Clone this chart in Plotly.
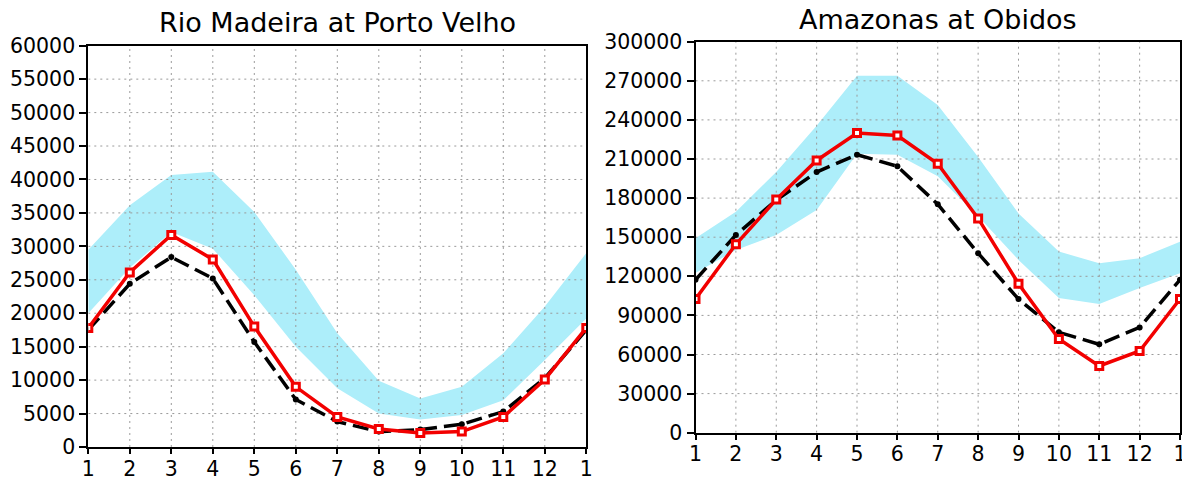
import plotly.graph_objects as go

# ---- data -------------------------------------------------------------
months = list(range(1, 14))
month_labels = ["1", "2", "3", "4", "5", "6", "7", "8", "9", "10", "11", "12", "1"]

madeira_title = "Rio Madeira at Porto Velho"
madeira_obs = [17800, 26100, 31700, 28050, 18000, 9000, 4500, 2700, 2100, 2300, 4500, 10100, 17800]
madeira_sim = [17500, 24400, 28400, 25200, 15700, 7100, 3800, 2300, 2600, 3400, 5300, 10300, 17500]
madeira_hi = [29500, 36150, 40650, 41150, 35150, 26500, 17000, 9900, 7250, 9000, 14000, 21000, 29000]
madeira_lo = [20000, 26800, 32150, 29650, 22700, 15000, 8800, 5000, 4100, 4800, 7000, 13000, 19200]
madeira_yticks = list(range(0, 60001, 5000))

obidos_title = "Amazonas at Obidos"
obidos_obs = [102600, 144600, 178900, 208900, 230000, 228000, 206400, 164400, 114300, 71900, 51200, 62700, 102600]
obidos_sim = [117300, 151700, 178500, 200000, 213300, 204400, 175300, 137700, 102500, 77000, 67800, 80800, 117300]
obidos_hi = [149100, 169500, 200000, 235600, 273800, 273800, 251500, 211500, 168200, 139000, 130000, 133900, 146600]
obidos_lo = [122500, 140200, 151700, 170800, 214000, 213300, 196800, 166000, 132600, 103300, 98800, 111000, 122400]
obidos_yticks = list(range(0, 300001, 30000))

# ---- style ------------------------------------------------------------
W, H = 1182, 481
FONT = "DejaVu Sans"
BAND = "#ADEEFA"
RED = "#F20000"
GRID = "#9a9a9a"

fig = go.Figure()


def add_panel(fig, xa, ya, obs, sim, hi, lo, yticks):
    # envelope band
    fig.add_trace(go.Scatter(
        x=months + months[::-1], y=hi + lo[::-1],
        fill="toself", fillcolor=BAND, mode="none",
        hoverinfo="skip", showlegend=False, xaxis=xa, yaxis=ya))
    # dotted grid drawn over the band but under the curves
    gx, gy = [], []
    for m in months[1:-1]:
        gx += [m, m, None]
        gy += [yticks[0], yticks[-1], None]
    for v in yticks[1:-1]:
        gx += [months[0], months[-1], None]
        gy += [v, v, None]
    fig.add_trace(go.Scatter(
        x=gx, y=gy, mode="lines",
        line=dict(color=GRID, width=1, dash="2px,4px"),
        hoverinfo="skip", showlegend=False, xaxis=xa, yaxis=ya))
    # simulated (black dashed)
    fig.add_trace(go.Scatter(
        x=months, y=sim, mode="lines+markers",
        line=dict(color="black", width=3.5, dash="16px,7px"),
        marker=dict(symbol="circle", size=6, color="black"),
        showlegend=False, xaxis=xa, yaxis=ya))
    # observed (red with open squares)
    fig.add_trace(go.Scatter(
        x=months, y=obs, mode="lines+markers",
        line=dict(color=RED, width=3.5),
        marker=dict(symbol="square", size=7, color="white",
                    line=dict(color=RED, width=3)),
        showlegend=False, xaxis=xa, yaxis=ya))


add_panel(fig, "x", "y", madeira_obs, madeira_sim, madeira_hi, madeira_lo, madeira_yticks)
add_panel(fig, "x2", "y2", obidos_obs, obidos_sim, obidos_hi, obidos_lo, obidos_yticks)

axis_common = dict(
    showline=True, linewidth=2, linecolor="black", mirror=True,
    ticks="outside", ticklen=7, tickwidth=2, tickcolor="black",
    showgrid=False, zeroline=False, automargin=False,
    ticklabeloverflow="allow",
    tickfont=dict(family=FONT, size=20.5, color="black"),
)

x_common = dict(axis_common, range=[months[0], months[-1]], ticklen=5,
                ticklabelstandoff=-3,
                tickmode="array", tickvals=months, ticktext=month_labels)

fig.update_layout(
    width=W, height=H,
    margin=dict(l=0, r=0, t=0, b=0),
    paper_bgcolor="white", plot_bgcolor="white",
    xaxis=dict(x_common, domain=[88.3 / W, 586.3 / W], anchor="y"),
    yaxis=dict(axis_common, domain=[1 - 447 / H, 1 - 45.7 / H], anchor="x",
               range=[madeira_yticks[0], madeira_yticks[-1]],
               tickmode="array", tickvals=madeira_yticks,
               ticktext=[str(v) for v in madeira_yticks]),
    xaxis2=dict(x_common, domain=[695.5 / W, 1180 / W], anchor="y2"),
    yaxis2=dict(axis_common, domain=[1 - 432.7 / H, 1 - 41.7 / H], anchor="x2",
                range=[obidos_yticks[0], obidos_yticks[-1]],
                tickmode="array", tickvals=obidos_yticks,
                ticktext=[str(v) for v in obidos_yticks]),
    annotations=[
        dict(text=madeira_title, xref="paper", yref="paper",
             x=337 / W, y=1 - 22 / H, xanchor="center", yanchor="middle",
             showarrow=False, font=dict(family=FONT, size=27, color="black")),
        dict(text=obidos_title, xref="paper", yref="paper",
             x=937.6 / W, y=1 - 19.5 / H, xanchor="center", yanchor="middle",
             showarrow=False, font=dict(family=FONT, size=27, color="black")),
    ],
)

fig.write_html("out.html")
